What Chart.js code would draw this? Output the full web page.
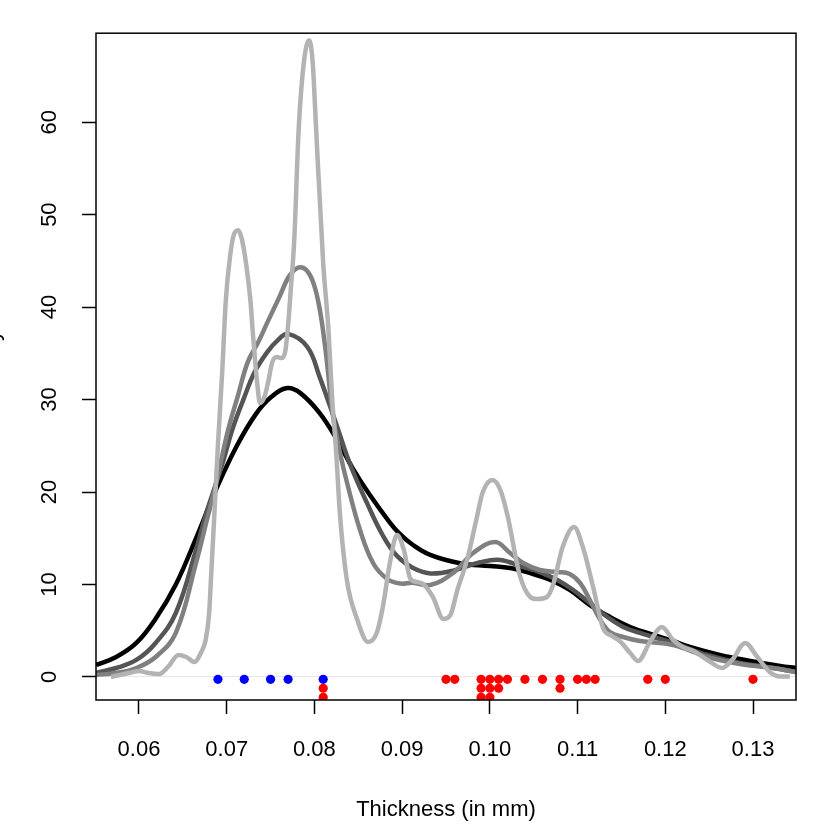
<!DOCTYPE html>
<html>
<head>
<meta charset="utf-8">
<script src="https://cdn.jsdelivr.net/npm/chart.js@4.4.1/dist/chart.umd.min.js"></script>
<style>
  html, body { margin: 0; padding: 0; background: #fff; }
  canvas { display: block; }
</style>
</head>
<body>
<canvas id="densityChart" width="830" height="828"></canvas>
<script>
// axis ticks and limits
const xTicks = [0.06, 0.07, 0.08, 0.09, 0.10, 0.11, 0.12, 0.13];
const yTicks = [0, 10, 20, 30, 40, 50, 60];
const xRange = [0.0551, 0.1349];
const yRange = [-2.49, 69.62];

// density curves (widest bandwidth first)
const blackX = [0.0551, 0.0574, 0.0597, 0.0619, 0.0642, 0.0665, 0.0688, 0.0711, 0.0733, 0.0751, 0.0769, 0.0784, 0.0806, 0.0826, 0.0844, 0.0863, 0.0886, 0.0897, 0.0912, 0.0932, 0.0966, 0.1000, 0.1023, 0.1046, 0.1069, 0.1091, 0.1114, 0.1137, 0.1160, 0.1183, 0.1209, 0.1228, 0.1262, 0.1297, 0.1331, 0.1349];
const blackY = [1.30, 2.16, 3.68, 6.30, 10.00, 15.00, 20.30, 24.90, 28.40, 30.30, 31.24, 30.70, 28.54, 25.60, 22.50, 19.70, 16.70, 15.50, 14.30, 13.20, 12.30, 12.00, 11.78, 11.24, 10.49, 9.41, 7.78, 6.49, 5.41, 4.65, 3.89, 3.24, 2.38, 1.73, 1.19, 0.97];

const darkX = [0.0551, 0.0574, 0.0597, 0.0619, 0.0642, 0.0665, 0.0676, 0.0688, 0.0696, 0.0707, 0.0719, 0.0732, 0.0746, 0.0758, 0.0770, 0.0792, 0.0806, 0.0826, 0.0841, 0.0860, 0.0878, 0.0894, 0.0912, 0.0932, 0.0958, 0.0989, 0.1012, 0.1038, 0.1057, 0.1077, 0.1095, 0.1114, 0.1134, 0.1152, 0.1171, 0.1209, 0.1248, 0.1285, 0.1323, 0.1349];
const darkY = [0.43, 0.97, 1.84, 3.68, 6.92, 13.73, 17.51, 20.97, 23.35, 26.92, 30.00, 33.00, 35.10, 36.40, 37.10, 35.68, 32.43, 27.03, 22.92, 18.80, 15.30, 13.10, 11.80, 11.20, 11.50, 12.40, 12.65, 11.89, 11.35, 10.49, 9.41, 8.00, 6.49, 5.41, 4.76, 3.68, 2.38, 1.51, 0.97, 0.54];

const midX = [0.0551, 0.0574, 0.0597, 0.0619, 0.0642, 0.0665, 0.0676, 0.0688, 0.0701, 0.0713, 0.0724, 0.0736, 0.0746, 0.0760, 0.0772, 0.0784, 0.0795, 0.0804, 0.0812, 0.0821, 0.0829, 0.0837, 0.0852, 0.0867, 0.0883, 0.0898, 0.0912, 0.0932, 0.0958, 0.0981, 0.1006, 0.1023, 0.1038, 0.1057, 0.1077, 0.1091, 0.1103, 0.1114, 0.1126, 0.1137, 0.1152, 0.1171, 0.1209, 0.1248, 0.1285, 0.1323, 0.1349];
const midY = [0.22, 0.43, 0.97, 2.16, 4.76, 12.32, 16.43, 20.97, 26.49, 30.49, 34.05, 36.22, 38.27, 41.08, 43.46, 44.32, 43.46, 40.76, 35.89, 28.32, 24.32, 21.08, 15.89, 12.30, 10.60, 10.10, 10.20, 9.95, 11.24, 13.41, 14.59, 13.41, 12.32, 11.57, 11.35, 11.14, 10.16, 8.32, 6.16, 4.86, 4.32, 3.89, 3.46, 2.16, 1.41, 0.97, 0.54];

const lightX = [0.0568, 0.0578, 0.0589, 0.0600, 0.0611, 0.0623, 0.0633, 0.0645, 0.0654, 0.0663, 0.0671, 0.0676, 0.0680, 0.0682, 0.0686, 0.0690, 0.0695, 0.0699, 0.0704, 0.0708, 0.0713, 0.0717, 0.0722, 0.0727, 0.0730, 0.0735, 0.0738, 0.0743, 0.0747, 0.0752, 0.0757, 0.0763, 0.0767, 0.0770, 0.0773, 0.0777, 0.0782, 0.0788, 0.0794, 0.0798, 0.0802, 0.0810, 0.0816, 0.0820, 0.0825, 0.0829, 0.0837, 0.0849, 0.0861, 0.0871, 0.0878, 0.0886, 0.0894, 0.0902, 0.0909, 0.0917, 0.0924, 0.0935, 0.0947, 0.0955, 0.0963, 0.0974, 0.0984, 0.0992, 0.1003, 0.1012, 0.1020, 0.1034, 0.1046, 0.1054, 0.1065, 0.1072, 0.1083, 0.1096, 0.1106, 0.1118, 0.1129, 0.1139, 0.1148, 0.1160, 0.1169, 0.1183, 0.1196, 0.1209, 0.1220, 0.1232, 0.1248, 0.1265, 0.1277, 0.1291, 0.1305, 0.1319, 0.1331, 0.1342];
const lightY = [0.00, 0.22, 0.43, 0.65, 0.43, 0.32, 1.08, 2.38, 2.16, 1.62, 2.70, 4.00, 6.92, 10.49, 17.73, 25.08, 33.19, 40.76, 45.62, 47.78, 48.32, 47.46, 44.76, 40.76, 36.97, 31.57, 29.62, 30.27, 31.78, 34.05, 34.59, 34.49, 35.35, 38.05, 41.84, 47.24, 59.14, 66.49, 68.86, 66.49, 59.14, 44.76, 37.51, 30.49, 24.00, 17.73, 10.49, 6.16, 3.78, 4.76, 7.57, 12.32, 15.35, 13.73, 10.70, 10.27, 10.05, 8.65, 6.27, 6.70, 9.41, 12.65, 16.76, 20.00, 21.30, 20.22, 17.51, 11.03, 8.65, 8.43, 8.65, 9.95, 14.05, 16.22, 14.05, 9.62, 5.30, 4.43, 3.89, 2.59, 1.73, 3.89, 5.41, 4.00, 3.24, 2.81, 1.84, 0.97, 1.95, 3.68, 2.16, 0.54, 0.05, 0.05];

// observed thicknesses under the curves
const blueThickness = [0.069, 0.072, 0.075, 0.077, 0.081];
const redThickness = [0.081, 0.081, 0.095, 0.096, 0.099, 0.099, 0.099, 0.100, 0.100, 0.100, 0.101, 0.101, 0.102, 0.104, 0.106, 0.108, 0.108, 0.110, 0.111, 0.112, 0.118, 0.120, 0.130];
const stackLevels = [-0.25, -1.22, -2.19];

const toPoints = (xs, ys) => xs.map((x, i) => ({ x: x, y: ys[i] }));

// repeated values go one row lower each time
const counts = {};
const stackPoints = (values) => values.map(v => {
    const key = v.toFixed(3);
    const level = counts[key] || 0;
    counts[key] = level + 1;
    return { x: v, y: stackLevels[level] };
});
const bluePoints = stackPoints(blueThickness);
const redPoints = stackPoints(redThickness);

const FONT = 'Liberation Sans';
Chart.defaults.font.family = FONT;
Chart.defaults.color = '#000';

const curve = (label, data, color, order, mode) => ({
    type: 'line',
    label: label,
    data: data,
    borderColor: color,
    borderWidth: 4.5,
    pointRadius: 0,
    fill: false,
    tension: 0.4,
    cubicInterpolationMode: mode,
    clip: 0,
    order: order
});

const dots = (label, data, color) => ({
    type: 'scatter',
    label: label,
    data: data,
    backgroundColor: color,
    borderWidth: 0,
    pointRadius: 4.6,
    order: 0
});

// box around the plot region
const framePlugin = {
    id: 'frame',
    afterDatasetsDraw(chart) {
        const a = chart.chartArea;
        const ctx = chart.ctx;
        ctx.save();
        ctx.strokeStyle = '#000';
        ctx.lineWidth = 1.5;
        ctx.strokeRect(a.left, a.top, a.right - a.left, a.bottom - a.top);
        ctx.restore();
    }
};

// y title sits almost entirely outside the canvas
const yTitlePlugin = {
    id: 'yTitle',
    afterDraw(chart) {
        const a = chart.chartArea;
        const ctx = chart.ctx;
        ctx.save();
        ctx.translate(-1.5, (a.top + a.bottom) / 2);
        ctx.rotate(-Math.PI / 2);
        ctx.font = '22px "' + FONT + '"';
        ctx.fillStyle = '#000';
        ctx.textAlign = 'center';
        ctx.textBaseline = 'alphabetic';
        ctx.fillText('Density', 0, 0);
        ctx.restore();
    }
};

const ctx = document.getElementById('densityChart').getContext('2d');
const densityChart = new Chart(ctx, {
    data: {
        datasets: [
            dots('blue', bluePoints, '#0000ff'),
            dots('red', redPoints, '#ff0000'),
            curve('bw small', toPoints(lightX, lightY), '#b3b3b3', 1, 'monotone'),
            curve('bw medium', toPoints(midX, midY), '#808080', 2, 'default'),
            curve('bw large', toPoints(darkX, darkY), '#555555', 3, 'default'),
            curve('bw default', toPoints(blackX, blackY), '#000000', 4, 'default')
        ]
    },
    options: {
        responsive: false,
        devicePixelRatio: 1,
        animation: false,
        layout: { padding: { top: 33, right: 34, bottom: 0, left: 0 } },
        plugins: {
            legend: { display: false },
            tooltip: { enabled: false }
        },
        scales: {
            x: {
                type: 'linear',
                min: xRange[0],
                max: xRange[1],
                afterBuildTicks: s => { s.ticks = xTicks.map(v => ({ value: v })); },
                afterFit: s => { s.height = 128; },
                border: { display: false },
                grid: {
                    drawOnChartArea: false,
                    drawTicks: true,
                    tickLength: 14,
                    tickColor: '#000',
                    tickWidth: 1.5
                },
                ticks: {
                    autoSkip: false,
                    maxRotation: 0,
                    padding: 23,
                    font: { size: 22 },
                    callback: v => v.toFixed(2)
                },
                title: {
                    display: true,
                    text: 'Thickness (in mm)',
                    font: { size: 22 },
                    padding: { top: 0, bottom: 5 }
                }
            },
            y: {
                type: 'linear',
                min: yRange[0],
                max: yRange[1],
                afterBuildTicks: s => { s.ticks = yTicks.map(v => ({ value: v })); },
                afterFit: s => { s.width = 96; },
                border: { display: false },
                grid: {
                    color: c => (c.tick && c.tick.value === 0) ? '#e6e6e6' : 'rgba(0,0,0,0)',
                    lineWidth: 1,
                    drawTicks: true,
                    tickLength: 14,
                    tickColor: '#000',
                    tickWidth: 1.5
                },
                ticks: {
                    autoSkip: false,
                    minRotation: 90,
                    maxRotation: 90,
                    crossAlign: 'center',
                    padding: 20,
                    font: { size: 22 },
                    callback: v => String(v)
                }
            }
        }
    },
    plugins: [framePlugin, yTitlePlugin]
});
</script>
</body>
</html>
